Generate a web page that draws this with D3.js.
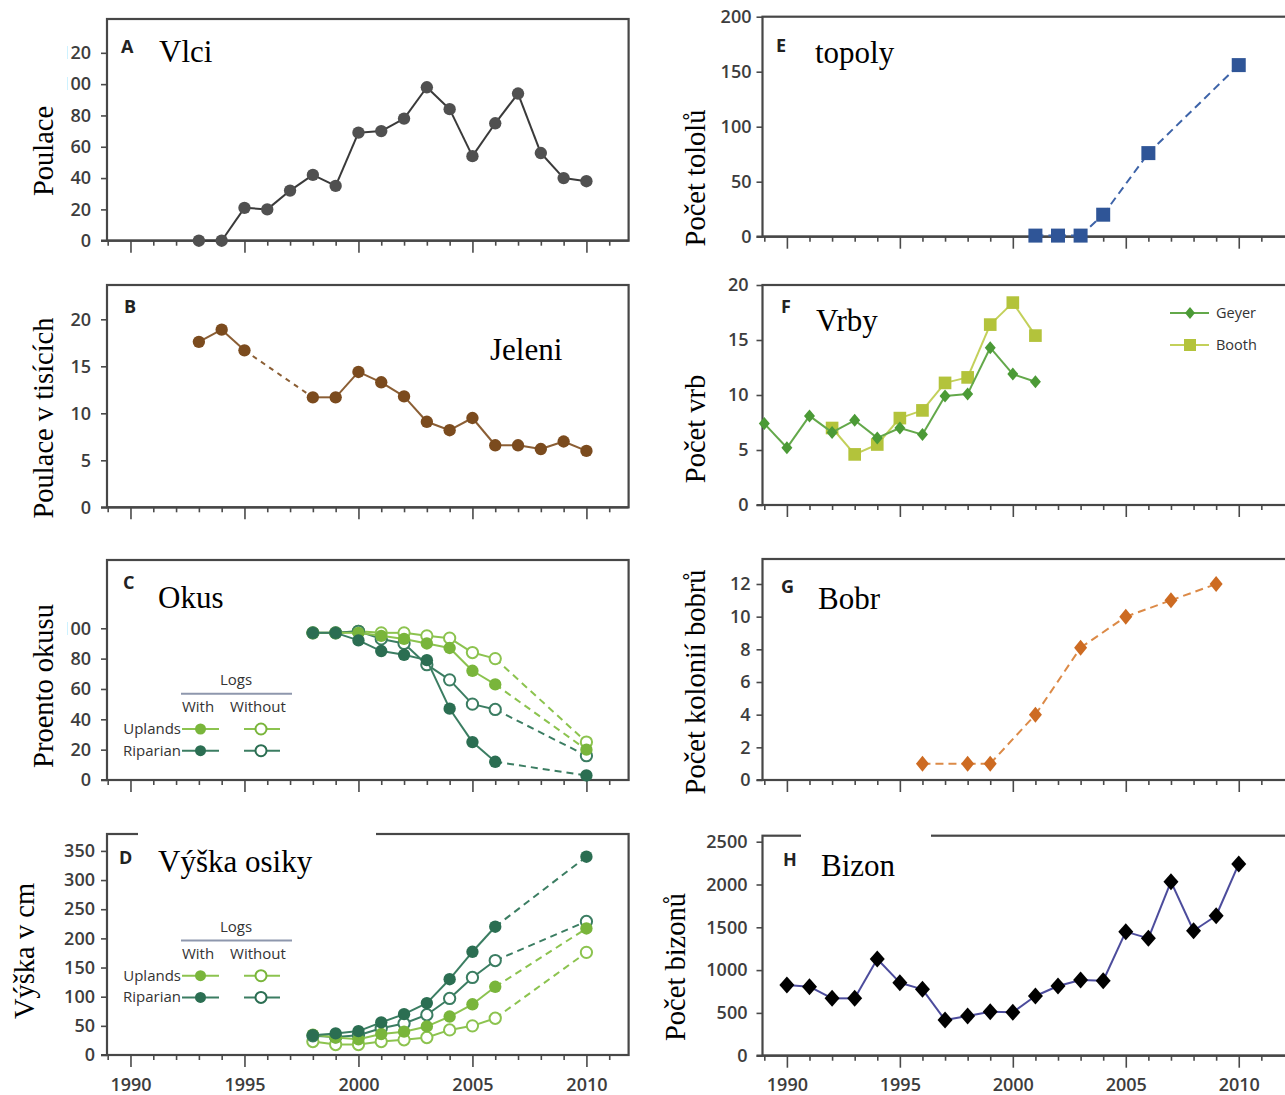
<!DOCTYPE html>
<html>
<head>
<meta charset="utf-8">
<script src="https://cdn.jsdelivr.net/npm/d3@7"></script>
<style>
  body { margin: 0; background: #fff; }
  svg { display: block; }
</style>
</head>
<body>
<svg id="chart" width="1285" height="1095"></svg>
<script>
// ---------- data ----------
const wolfYears = [1993, 1994, 1995, 1996, 1997, 1998, 1999, 2000, 2001, 2002, 2003, 2004, 2005, 2006, 2007, 2008, 2009, 2010];
const wolfCount = [0, 0, 21, 20, 32, 42, 35, 69, 70, 78, 98, 84, 54, 75, 94, 56, 40, 38];

const elkYears = [1993, 1994, 1995, 1998, 1999, 2000, 2001, 2002, 2003, 2004, 2005, 2006, 2007, 2008, 2009, 2010];
const elkThousands = [17.6, 18.9, 16.7, 11.7, 11.7, 14.4, 13.3, 11.8, 9.1, 8.2, 9.5, 6.6, 6.6, 6.2, 7.0, 6.0];

const aspenYears = [1998, 1999, 2000, 2001, 2002, 2003, 2004, 2005, 2006, 2010];
const browseUplandsWith = [97, 97, 97, 95, 93, 90, 87, 72, 63, 20];
const browseUplandsWithout = [97, 97, 98, 97, 97, 95, 93.5, 84, 80, 25];
const browseRiparianWith = [97, 97, 92, 85, 82.5, 79, 47, 25, 12, 3];
const browseRiparianWithout = [97, 97, 98, 93, 90, 76, 66, 50, 46.5, 16];

const heightUplandsWith = [35, 30, 27, 36, 40, 49, 66, 87, 117, 217];
const heightUplandsWithout = [23, 18, 18, 23, 26, 30, 43, 50, 63, 176];
const heightRiparianWith = [34, 37, 41, 56, 70, 89, 130, 177, 220, 340];
const heightRiparianWithout = [33, 31, 34, 46, 54, 69, 97, 133, 162, 229];

const cottonwoodYears = [2001, 2002, 2003, 2004, 2006, 2010];
const cottonwoodCount = [1, 1, 1, 20, 76, 156];

const geyerYears = [1989, 1990, 1991, 1992, 1993, 1994, 1995, 1996, 1997, 1998, 1999, 2000, 2001];
const geyerCount = [7.4, 5.2, 8.1, 6.6, 7.7, 6.1, 7.0, 6.4, 9.9, 10.1, 14.3, 11.9, 11.2];
const boothYears = [1992, 1993, 1994, 1995, 1996, 1997, 1998, 1999, 2000, 2001];
const boothCount = [7.0, 4.6, 5.5, 7.9, 8.6, 11.1, 11.6, 16.4, 18.4, 15.4];

const beaverYears = [1996, 1998, 1999, 2001, 2003, 2005, 2007, 2009];
const beaverColonies = [1, 1, 1, 4, 8.1, 10, 11, 12];

const bisonYears = d3.range(1990, 2011);
const bisonCount = [826, 806, 670, 670, 1130, 853, 775, 417, 464, 514, 507, 697, 814, 884, 876, 1449, 1371, 2033, 1460, 1635, 2240];

const xMajorTicks = [1990, 1995, 2000, 2005, 2010];
const xMinorTicks = d3.range(1989, 2012).filter(d => d % 5 !== 0);

const ticksA = [0, 20, 40, 60, 80, 100, 120];
const ticksB = [0, 5, 10, 15, 20];
const ticksC = [0, 20, 40, 60, 80, 100];
const ticksD = [0, 50, 100, 150, 200, 250, 300, 350];
const ticksE = [0, 50, 100, 150, 200];
const ticksF = [0, 5, 10, 15, 20];
const ticksG = [0, 2, 4, 6, 8, 10, 12];
const ticksH = [0, 500, 1000, 1500, 2000, 2500];

// ---------- styles ----------
const serif = "'Liberation Serif', 'Times New Roman', serif";
const sans = "'Open Sans', 'DejaVu Sans', sans-serif";
const frameColor = "#474747";
const tickColor = "#4a4a4a";

const riparianMark = "#2b6e52", riparianLine = "#3b7d62";
const uplandsMark = "#79b53b", uplandsLine = "#8cc34f";

const svg = d3.select("#chart");

// custom diamond for d3.symbol (width / height in px)
function diamond(w, h) {
    return {
        draw(ctx) {
            ctx.moveTo(0, -h / 2);
            ctx.lineTo(w / 2, 0);
            ctx.lineTo(0, h / 2);
            ctx.lineTo(-w / 2, 0);
            ctx.closePath();
        }
    };
}

const leftCol = { left: 107, right: 628.6, xDomain: [1988.97, 2011.85] };
const rightCol = { left: 762.5, right: 1295, xDomain: [1988.92, 2012.49] };

function makePanel(col, top, bottom, yMax, yTicks, pad, showYears) {
    const x = d3.scaleLinear().domain(col.xDomain).range([col.left, col.right]);
    const y = d3.scaleLinear().domain([0, yMax]).range([bottom, top]);
    const g = svg.append("g");

    // x ticks, minor then major
    const minor = g.append("g").attr("transform", `translate(0,${bottom})`)
        .call(d3.axisBottom(x).tickValues(xMinorTicks).tickSize(5).tickFormat(""));
    const major = g.append("g").attr("transform", `translate(0,${bottom})`)
        .call(d3.axisBottom(x).tickValues(xMajorTicks).tickSize(12).tickPadding(11)
            .tickFormat(showYears ? d3.format("d") : ""));
    const yAx = g.append("g").attr("transform", `translate(${col.left},0)`)
        .call(d3.axisLeft(y).tickValues(yTicks).tickSize(6).tickPadding(pad).tickFormat(d3.format("d")));

    [minor, major, yAx].forEach(a => {
        a.select(".domain").remove();
        a.selectAll("line").attr("stroke", tickColor).attr("stroke-width", 1.6);
        a.selectAll("text").attr("font-family", sans).attr("font-size", 18)
            .attr("font-weight", 600).attr("fill", "#3d3d3d");
    });

    // frame
    g.append("rect")
        .attr("x", col.left).attr("y", top)
        .attr("width", col.right - col.left).attr("height", bottom - top)
        .attr("fill", "none").attr("stroke", frameColor).attr("stroke-width", 2.2);
    g.append("line")
        .attr("x1", col.left - 6).attr("x2", col.right)
        .attr("y1", bottom).attr("y2", bottom)
        .attr("stroke", frameColor).attr("stroke-width", 2.2);

    return { g, x, y };
}

// draws a line, solid or dashed per segment, then the markers
function drawSeries(p, years, vals, o) {
    const pts = years.map((d, i) => [p.x(d), p.y(vals[i])]);
    const line = d3.line();
    for (let i = 0; i < pts.length - 1; i++) {
        const dashed = o.dashed(i, years);
        p.g.append("path")
            .attr("d", line([pts[i], pts[i + 1]]))
            .attr("fill", "none")
            .attr("stroke", o.line)
            .attr("stroke-width", o.width || 2)
            .attr("stroke-dasharray", dashed ? (o.dash || "7,5") : null);
    }
    const sym = d3.symbol().type(o.shape).size(o.size || 110);
    p.g.selectAll(null).data(pts).join("path")
        .attr("transform", d => `translate(${d[0]},${d[1]})`)
        .attr("d", sym)
        .attr("fill", o.open ? "#fff" : o.mark)
        .attr("stroke", o.open ? o.mark : "none")
        .attr("stroke-width", o.open ? 2 : 0);
}

function panelLetter(x, y, t) {
    svg.append("text").attr("x", x).attr("y", y).text(t)
        .attr("font-family", sans).attr("font-weight", "bold")
        .attr("font-size", 18).attr("fill", "#222");
}

function title(x, y, t) {
    svg.append("text").attr("x", x).attr("y", y).text(t)
        .attr("font-family", serif).attr("font-size", 31).attr("fill", "#000");
}

function yLabel(x, cy, t) {
    svg.append("text")
        .attr("transform", `translate(${x},${cy}) rotate(-90)`)
        .attr("text-anchor", "middle")
        .text(t)
        .attr("font-family", serif).attr("font-size", 28.5).attr("fill", "#000");
}

function whiteBox(x, y, w, h) {
    svg.append("rect").attr("x", x).attr("y", y).attr("width", w).attr("height", h).attr("fill", "#fff");
}

const solid = () => false;
const allDashed = () => true;
const lastDashed = (i, yrs) => yrs[i + 1] === 2010;

function logsLegend(cy) {
    const lg = svg.append("g").attr("font-family", sans).attr("font-size", 15).attr("fill", "#333");
    lg.append("text").attr("x", 236).attr("y", cy + 5).attr("text-anchor", "middle").text("Logs");
    lg.append("line").attr("x1", 181).attr("x2", 292).attr("y1", cy + 13.7).attr("y2", cy + 13.7)
        .attr("stroke", "#8e97ad").attr("stroke-width", 2);
    lg.append("text").attr("x", 198).attr("y", cy + 32).attr("text-anchor", "middle").text("With");
    lg.append("text").attr("x", 258).attr("y", cy + 32).attr("text-anchor", "middle").text("Without");
    const rows = [["Uplands", cy + 49, uplandsMark, uplandsLine], ["Riparian", cy + 70.7, riparianMark, riparianLine]];
    rows.forEach(([name, ry, mk, ln]) => {
        lg.append("text").attr("x", 181).attr("y", ry + 5).attr("text-anchor", "end").text(name);
        lg.append("line").attr("x1", 182).attr("x2", 219).attr("y1", ry).attr("y2", ry)
            .attr("stroke", ln).attr("stroke-width", 2);
        lg.append("circle").attr("cx", 200.5).attr("cy", ry).attr("r", 5.5).attr("fill", mk);
        lg.append("line").attr("x1", 244).attr("x2", 280).attr("y1", ry).attr("y2", ry)
            .attr("stroke", ln).attr("stroke-width", 2);
        lg.append("circle").attr("cx", 261).attr("cy", ry).attr("r", 5.5)
            .attr("fill", "#fff").attr("stroke", mk).attr("stroke-width", 2);
    });
}

// ---------- A: wolves ----------
const pA = makePanel(leftCol, 19, 240.7, 141.6, ticksA, 10, false);
drawSeries(pA, wolfYears, wolfCount, { line: "#3a3a3a", mark: "#505050", shape: d3.symbolCircle, size: 120, dashed: solid });
whiteBox(18, 35, 49, 75);
yLabel(53, 151, "Poulace");
panelLetter(121, 53, "A");
title(159, 62, "Vlci");

// ---------- B: elk ----------
const pB = makePanel(leftCol, 285, 507.3, 23.65, ticksB, 10, false);
drawSeries(pB, elkYears, elkThousands, {
    line: "#8b5e34", mark: "#7b4b1e", shape: d3.symbolCircle, size: 120,
    dashed: (i, yrs) => yrs[i] === 1995, dash: "5,5"
});
yLabel(53, 418, "Poulace v tisících");
panelLetter(124, 313, "B");
title(490, 360, "Jeleni");

// ---------- C: browsing ----------
const pC = makePanel(leftCol, 560, 780, 145, ticksC, 10, false);
drawSeries(pC, aspenYears, browseUplandsWithout, { line: uplandsLine, mark: uplandsLine, open: true, shape: d3.symbolCircle, size: 100, dashed: lastDashed });
drawSeries(pC, aspenYears, browseRiparianWithout, { line: riparianLine, mark: riparianLine, open: true, shape: d3.symbolCircle, size: 100, dashed: lastDashed });
drawSeries(pC, aspenYears, browseUplandsWith, { line: uplandsLine, mark: uplandsMark, shape: d3.symbolCircle, size: 120, dashed: lastDashed });
drawSeries(pC, aspenYears, browseRiparianWith, { line: riparianLine, mark: riparianMark, shape: d3.symbolCircle, size: 120, dashed: lastDashed });
whiteBox(18, 600, 49, 45);
logsLegend(680);
yLabel(53, 686, "Proento okusu");
panelLetter(123, 589, "C");
title(158, 608, "Okus");

// ---------- D: aspen height ----------
const pD = makePanel(leftCol, 834, 1055, 379, ticksD, 6, true);
drawSeries(pD, aspenYears, heightUplandsWithout, { line: uplandsLine, mark: uplandsLine, open: true, shape: d3.symbolCircle, size: 100, dashed: lastDashed });
drawSeries(pD, aspenYears, heightRiparianWithout, { line: riparianLine, mark: riparianLine, open: true, shape: d3.symbolCircle, size: 100, dashed: lastDashed });
drawSeries(pD, aspenYears, heightUplandsWith, { line: uplandsLine, mark: uplandsMark, shape: d3.symbolCircle, size: 120, dashed: lastDashed });
drawSeries(pD, aspenYears, heightRiparianWith, { line: riparianLine, mark: riparianMark, shape: d3.symbolCircle, size: 120, dashed: lastDashed });
whiteBox(138, 829, 238, 9);
logsLegend(926.7);
yLabel(34, 951, "Výška v cm");
panelLetter(119, 864, "D");
title(158, 872, "Výška osiky");

// ---------- E: cottonwood ----------
const pE = makePanel(rightCol, 16.7, 236.7, 200, ticksE, 5, false);
drawSeries(pE, cottonwoodYears, cottonwoodCount, { line: "#3d63a8", mark: "#2f5597", shape: d3.symbolSquare, size: 196, dashed: allDashed, dash: "8,5" });
yLabel(705, 178, "Počet tololů");
panelLetter(776, 52, "E");
title(815, 63, "topoly");

// ---------- F: willows ----------
const pF = makePanel(rightCol, 285, 505, 20, ticksF, 8, false);
drawSeries(pF, boothYears, boothCount, { line: "#c3d05a", mark: "#b3c33b", shape: d3.symbolSquare, size: 160, dashed: solid });
drawSeries(pF, geyerYears, geyerCount, { line: "#63a84a", mark: "#4b9a36", shape: diamond(11, 13), dashed: solid });
const fl = svg.append("g").attr("font-family", sans).attr("font-size", 14.5).attr("fill", "#333");
[["Geyer", 313, "#63a84a", "#4b9a36", diamond(10, 12), 0], ["Booth", 345, "#c3d05a", "#b3c33b", d3.symbolSquare, 144]].forEach(([name, ly, ln, mk, shp, sz]) => {
    fl.append("line").attr("x1", 1170).attr("x2", 1209).attr("y1", ly).attr("y2", ly).attr("stroke", ln).attr("stroke-width", 2);
    fl.append("path").attr("transform", `translate(1190,${ly})`).attr("d", d3.symbol().type(shp).size(sz || 64)).attr("fill", mk);
    fl.append("text").attr("x", 1216).attr("y", ly + 5).text(name);
});
yLabel(705, 429, "Počet vrb");
panelLetter(781, 313, "F");
title(816, 331, "Vrby");

// ---------- G: beaver ----------
const pG = makePanel(rightCol, 559, 780, 13.53, ticksG, 6, false);
drawSeries(pG, beaverYears, beaverColonies, { line: "#dc8a47", mark: "#cd6b22", shape: diamond(13, 16), dashed: allDashed, dash: "8,5" });
yLabel(705, 682, "Počet kolonií bobrů");
panelLetter(781, 593, "G");
title(818, 609, "Bobr");

// ---------- H: bison ----------
const pH = makePanel(rightCol, 835.7, 1055.7, 2570, ticksH, 9, true);
drawSeries(pH, bisonYears, bisonCount, { line: "#4c4c9c", mark: "#000", shape: diamond(15, 17), dashed: solid });
whiteBox(801, 831, 130, 9);
yLabel(685, 967, "Počet bizonů");
panelLetter(783, 866, "H");
title(821, 876, "Bizon");
</script>
</body>
</html>
